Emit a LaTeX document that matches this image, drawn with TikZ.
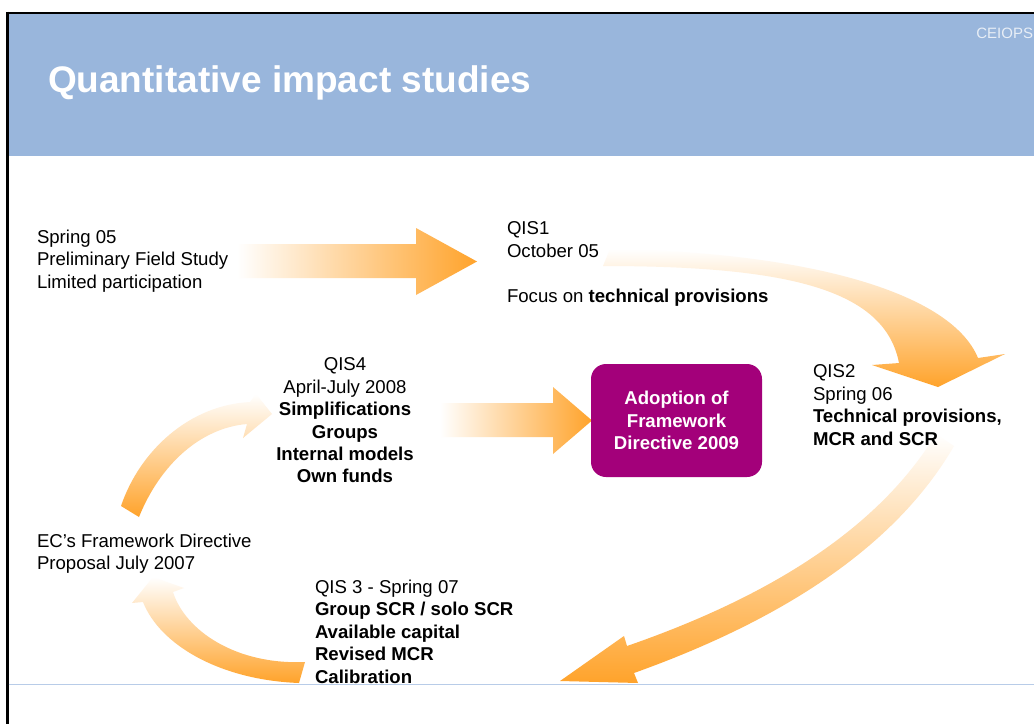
\documentclass[tikz,border=0pt]{standalone}
\usepackage{fontspec}
\setmainfont{Liberation Sans}
\usetikzlibrary{positioning,calc}
\definecolor{hdrblue}{RGB}{153,182,220}
\definecolor{rulblue}{RGB}{184,204,232}
\definecolor{orng}{RGB}{255,163,43}
\definecolor{plum}{RGB}{163,0,122}
\definecolor{paleceiops}{RGB}{232,238,246}
\newcommand{\txtfont}{\fontsize{18.6}{22.4}\selectfont}

\begin{document}
\begin{tikzpicture}[x=1pt,y=-1pt,
    every node/.style={inner sep=0pt,outer sep=0pt},
    stage/.style={font=\txtfont,align=left,anchor=north west},
    flatarrow/.style={left color=white,right color=orng},
    bentarrow/.style={top color=white,bottom color=orng},
    adoptbox/.style={fill=plum,rounded corners=15pt,minimum width=171pt,
      minimum height=113pt,text=white,font=\txtfont\bfseries,align=center}]
  \useasboundingbox (0,0) rectangle (1034,724);
  \fill[white] (0,0) rectangle (1034,724);

  % slide frame and header
  \fill[hdrblue] (8.5,14) rectangle (1034,156);
  \draw[line width=2.4pt] (6,12.8) -- (1034,12.8);
  \draw[line width=2.4pt] (7.3,11.6) -- (7.3,724);
  \draw[rulblue,line width=1.5pt] (8.5,684.5) -- (1034,684.5);
  \node[anchor=base west,font=\fontsize{37}{41}\selectfont\bfseries,text=white] (title) at (48,92) {Quantitative impact studies};
  \node[anchor=base east,font=\fontsize{15}{18}\selectfont,text=paleceiops] (ceiops) at (1033,38) {CEIOPS};

  % block arrows
  \shade[flatarrow] (237,244) -- (416,244) -- (416,228) -- (477,261.5) -- (416,295) -- (416,278) -- (237,278) -- cycle;
  \shade[flatarrow] (440,403) -- (553,403) -- (553,387) -- (592,420.5) -- (553,454) -- (553,437) -- (440,437) -- cycle;
  \shade[bentarrow] (603,266) -- (610,249) .. controls (800,252) and (950,290) .. (978,358)
    -- (1005,354) -- (938,387) -- (872,365) -- (899,363) .. controls (885,290) and (790,266) .. (603,266) -- cycle;
  \shade[bentarrow] (936,434) -- (954,446) .. controls (900,539) and (796,615) .. (634,673)
    -- (638,683) -- (560,681) -- (624,636) -- (627,646) .. controls (783,592) and (883,521) .. (936,434) -- cycle;
  \shade[bentarrow] (305,662) -- (299,683) .. controls (220,680) and (160,645) .. (143,602)
    -- (132,603) -- (153,577) -- (184,588) -- (173,592) .. controls (185,630) and (235,665) .. (305,662) -- cycle;
  \shade[bentarrow] (139,517) -- (121,506) .. controls (140,450) and (190,405) .. (250,402)
    -- (256,394) -- (272,414) -- (243,438) -- (247,424) .. controls (200,428) and (160,465) .. (139,517) -- cycle;

  % stages
  \node[adoptbox] (adopt) at (676.5,420.5) {Adoption of\\Framework\\Directive 2009};
  \node[stage] (spring) at (37,230) {Spring 05\\Preliminary Field Study\\Limited participation};
  \node[stage] (qisone) at (507,222) {QIS1\\October 05\\[23pt]Focus on \textbf{technical provisions}};
  \node[stage,align=center,anchor=north] (qisfour) at (345,358) {QIS4\\April-July 2008\\\textbf{Simplifications}\\\textbf{Groups}\\\textbf{Internal models}\\\textbf{Own funds}};
  \node[stage] (qistwo) at (813,365) {QIS2\\Spring 06\\\textbf{Technical provisions,}\\\textbf{MCR and SCR}};
  \node[stage] (ecprop) at (37,534) {EC’s Framework Directive\\Proposal July 2007};
  \node[stage] (qisthree) at (315,580) {QIS 3 - Spring 07\\\textbf{Group SCR / solo SCR}\\\textbf{Available capital}\\\textbf{Revised MCR}\\\textbf{Calibration}};
\end{tikzpicture}
\end{document}
